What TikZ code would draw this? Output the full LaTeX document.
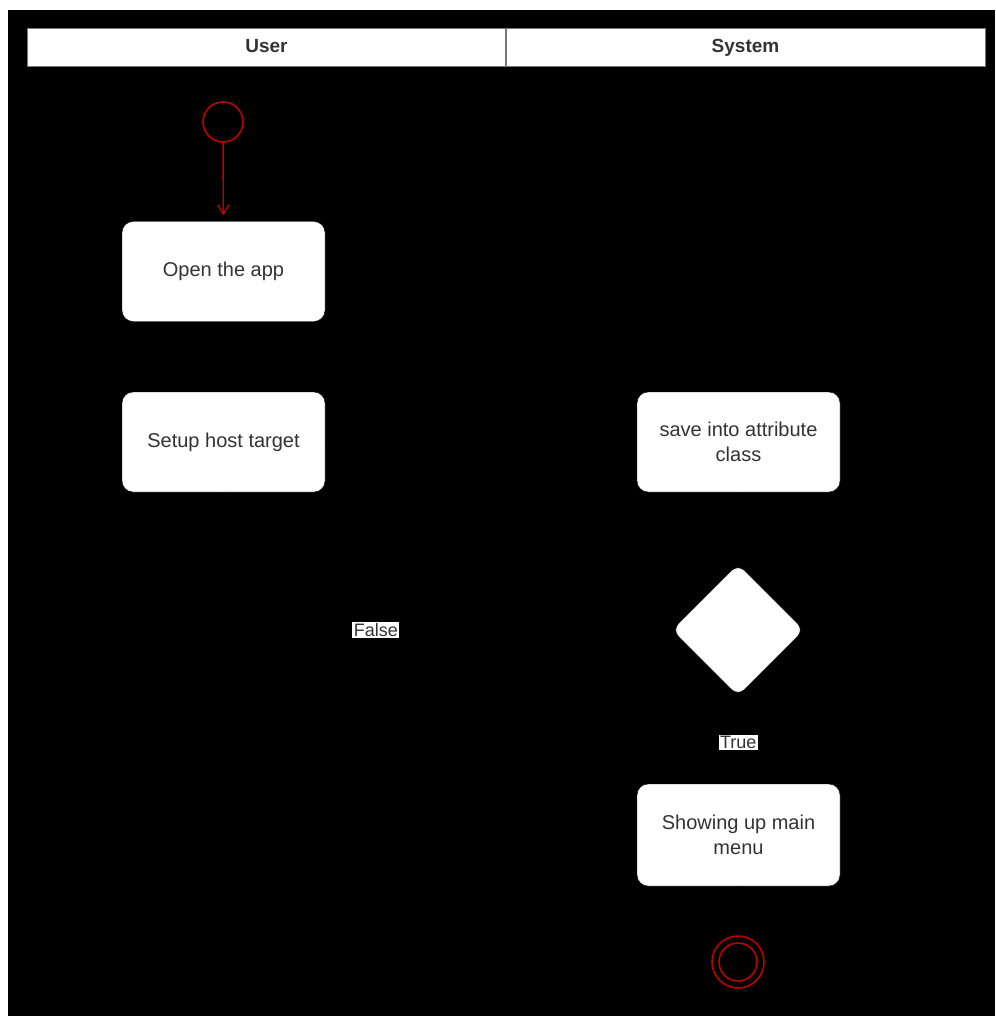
\documentclass[tikz,border=0pt]{standalone}
\usepackage{fontspec}
\setmainfont{Liberation Sans}
\usetikzlibrary{shapes.geometric,arrows.meta}
\definecolor{umlred}{RGB}{190,0,0}
\definecolor{txt}{RGB}{51,51,51}
\definecolor{hdrline}{RGB}{120,120,120}
\tikzset{
  act/.style={draw=black, fill=white, rounded corners=11pt, minimum width=203pt, minimum height=100pt,
    inner sep=2pt, align=center, font=\fontsize{20}{25}\selectfont, text=txt},
  dec/.style={diamond, draw=black, fill=white, rounded corners=9pt, minimum width=132pt, minimum height=132pt, inner sep=0pt},
  flow/.style={draw=black, line width=1pt},
  lbl/.style={fill=white, inner sep=1.5pt, font=\fontsize{18}{20}\selectfont, text=txt},
  hdr/.style={font=\bfseries\fontsize{19}{22}\selectfont, text=txt, text height=14pt, text depth=4pt},
}
\begin{document}
\begin{tikzpicture}[x=1pt,y=-1pt]
\useasboundingbox (0,0) rectangle (995,1016);
\fill[white] (0,0) rectangle (995,1016);
\fill[black] (8,10) rectangle (995,1016);
% header
\draw[hdrline, fill=white, line width=1pt] (27,29) rectangle (985,67);
\draw[hdrline, line width=2pt] (506,29) -- (506,67);
\node[hdr] (huser) at (266.5,48) {User};
\node[hdr] (hsys) at (745.5,48) {System};
% nodes
\node[circle, draw=umlred, line width=1.6pt, minimum size=40pt, inner sep=0pt] (start) at (223,122) {};
\node[act] (open) at (223.5,271.5) {Open the app};
\node[act] (setup) at (223.5,442) {Setup host target};
\node[act] (save) at (738.5,442) {save into attribute\\class};
\node[dec] (dec) at (738,630) {};
\node[act, minimum height=102pt] (menu) at (738.5,835) {Showing up main\\menu};
\node[circle, draw=umlred, line width=1.6pt, minimum size=52pt, inner sep=0pt] (end) at (738,962) {};
\node[circle, draw=umlred, line width=1.6pt, minimum size=38pt, inner sep=0pt] (endin) at (738,962) {};
% connectors
\draw[umlred, line width=1.4pt, -{Straight Barb[length=9pt,width=11pt]}, shorten >=6pt] (start) -- (open);
\draw[flow, ->] (open) -- (setup);
\draw[flow, ->] (setup) -- (save);
\draw[flow, ->] (save) -- (dec);
\draw[flow, ->] (dec) -- node[lbl, pos=0.53] (ltrue) {True} (menu);
\draw[flow, ->] (dec.west) -- node[lbl, pos=0.66] (lfalse) {False} (223.5,630) -- (setup.south);
\draw[flow, ->] (menu) -- (end);
\end{tikzpicture}
\end{document}
